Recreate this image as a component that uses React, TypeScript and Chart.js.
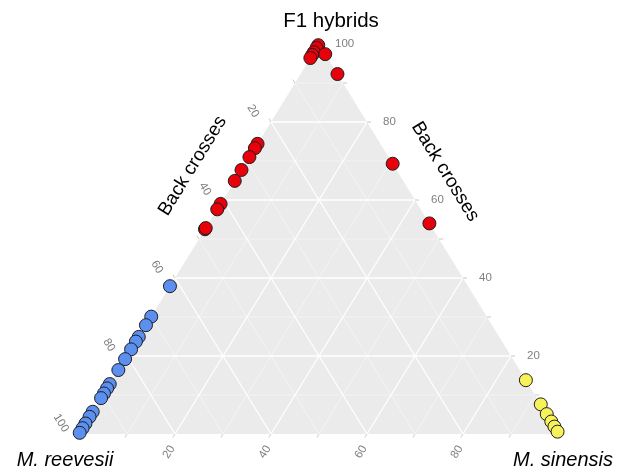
import React, { useEffect, useRef } from "react";
import { Chart, registerables } from "chart.js";

Chart.register(...registerables);

// Compositions in percent. F1 hybrids = top vertex, M. sinensis = right vertex,
// M. reevesii = left vertex (remainder).
const axisTicks = [20, 40, 60, 80, 100];
const bottomTicks = [20, 40, 60, 80];

const redF1 = [99.7, 99.0, 97.9, 97.2, 96.4, 97.4, 92.3, 69.3, 54.0, 74.4, 73.3, 71.0, 67.7, 64.9, 59.0, 57.6, 52.5, 52.8];
const redSinensis = [0, 0, 0, 0, 0, 2.6, 7.7, 30.7, 46.0, 0, 0, 0, 0, 0, 0, 0, 0, 0];

const blueF1 = [37.9, 30.1, 27.9, 24.9, 23.7, 21.7, 19.2, 16.4, 12.8, 11.7, 10.4, 9.2, 5.7, 4.4, 2.7, 1.5, 0.3];
const blueSinensis = [0, 0, 0, 0, 0, 0, 0, 0, 0, 0, 0, 0, 0, 0, 0, 0, 0];

const yellowF1 = [13.8, 7.6, 5.1, 3.2, 1.9, 0.6];
const yellowReevesii = [0, 0, 0, 0, 0, 0];

const FONT = '"Liberation Sans", Arial, Helvetica, sans-serif';

// ternary -> cartesian value used by the linear scales
function toXY(f1: number[], sinensis: number[]) {
  return f1.map((t, i) => ({ x: sinensis[i] + t / 2, y: t }));
}

const ternaryPlugin = {
  id: "ternaryFrame",
  beforeDatasetsDraw(chart: any) {
    const ctx: CanvasRenderingContext2D = chart.ctx;
    const xs = chart.scales.x;
    const ys = chart.scales.y;
    const P = (t: number, r: number): [number, number] => [
      xs.getPixelForValue(r + t / 2),
      ys.getPixelForValue(t),
    ];
    const A = P(100, 0); // top (F1)
    const B = P(0, 0); // left (M. reevesii)
    const C = P(0, 100); // right (M. sinensis)

    ctx.save();
    ctx.fillStyle = "#EBEBEB";
    ctx.beginPath();
    ctx.moveTo(A[0], A[1]);
    ctx.lineTo(B[0], B[1]);
    ctx.lineTo(C[0], C[1]);
    ctx.closePath();
    ctx.fill();

    const line = (p: [number, number], q: [number, number]) => {
      ctx.beginPath();
      ctx.moveTo(p[0], p[1]);
      ctx.lineTo(q[0], q[1]);
      ctx.stroke();
    };

    for (let k = 10; k < 100; k += 10) {
      const major = k % 20 === 0;
      ctx.strokeStyle = major ? "#FFFFFF" : "rgba(255,255,255,0.75)";
      ctx.lineWidth = major ? 1.3 : 0.6;
      line(P(k, 0), P(k, 100 - k)); // constant F1
      line(P(0, k), P(100 - k, k)); // constant sinensis
      line(P(0, 100 - k), P(100 - k, 0)); // constant reevesii
    }

    const unit = (p: [number, number], q: [number, number]) => {
      const dx = q[0] - p[0];
      const dy = q[1] - p[1];
      const l = Math.hypot(dx, dy);
      return [dx / l, dy / l];
    };
    const dirLeft = unit(C, A); // up-left
    const dirBottom = unit(A, B); // down-left
    const tickLen = 4;
    ctx.strokeStyle = "#C8C8C8";
    ctx.lineWidth = 1;
    for (let k = 0; k <= 100; k += 10) {
      const pr = P(k, 100 - k);
      line(pr, [pr[0] + tickLen, pr[1]]);
      const pl = P(100 - k, 0);
      line(pl, [pl[0] + dirLeft[0] * tickLen, pl[1] + dirLeft[1] * tickLen]);
      const pb = P(0, k);
      line(pb, [pb[0] + dirBottom[0] * tickLen, pb[1] + dirBottom[1] * tickLen]);
    }

    // tick labels
    const ang = Math.atan2(A[1] - B[1], A[0] - B[0]); // left edge angle (negative)
    ctx.fillStyle = "#7F7F7F";
    ctx.font = `11.5px ${FONT}`;
    ctx.textBaseline = "middle";
    ctx.textAlign = "left";
    axisTicks.forEach((k) => {
      const p = P(k, 100 - k);
      ctx.fillText(String(k), p[0] + 16, p[1]);
    });
    ctx.textAlign = "center";
    axisTicks.forEach((k) => {
      const p = P(100 - k, 0);
      ctx.save();
      ctx.translate(p[0] - 18, p[1] - 11);
      ctx.rotate(-ang);
      ctx.fillText(String(k), 0, 0);
      ctx.restore();
    });
    bottomTicks.forEach((k) => {
      const p = P(0, k);
      ctx.save();
      ctx.translate(p[0] - 6, p[1] + 18);
      ctx.rotate(ang);
      ctx.fillText(String(k), 0, 0);
      ctx.restore();
    });

    // titles
    ctx.fillStyle = "#000000";
    ctx.textBaseline = "alphabetic";
    ctx.font = `20.5px ${FONT}`;
    ctx.fillText("F1 hybrids", A[0] + 12, A[1] - 17);
    ctx.font = `italic 20px ${FONT}`;
    ctx.fillText("M. reevesii", B[0] - 14, B[1] + 32);
    ctx.fillText("M. sinensis", C[0] + 4, C[1] + 32);

    ctx.font = `19px ${FONT}`;
    ctx.textBaseline = "middle";
    const mid = (p: [number, number], q: [number, number], f: number): [number, number] => [
      p[0] + (q[0] - p[0]) * f,
      p[1] + (q[1] - p[1]) * f,
    ];
    const lm = mid(A, B, 0.31);
    ctx.save();
    ctx.translate(lm[0] - 52, lm[1] + 1);
    ctx.rotate(ang);
    ctx.fillText("Back crosses", 0, 0);
    ctx.restore();
    const rm = mid(A, C, 0.33);
    ctx.save();
    ctx.translate(rm[0] + 47, rm[1] - 1);
    ctx.rotate(-ang);
    ctx.fillText("Back crosses", 0, 0);
    ctx.restore();

    ctx.restore();
  },
};

export default function App() {
  const ref = useRef<HTMLCanvasElement | null>(null);

  useEffect(() => {
    document.body.style.margin = "0";
    if (!ref.current) return;
    const common = {
      pointRadius: 6.5,
      pointHoverRadius: 6.5,
      pointBorderWidth: 1,
      pointBorderColor: "#1E1E1E",
      showLine: false,
      clip: false as any,
    };
    const chart = new Chart(ref.current, {
      type: "scatter",
      data: {
        datasets: [
          {
            ...common,
            label: "M. sinensis",
            data: yellowF1.map((t, i) => ({ x: 100 - t - yellowReevesii[i] + t / 2, y: t })),
            pointBackgroundColor: "#F7F25A",
          },
          {
            ...common,
            label: "M. reevesii",
            data: toXY(blueF1, blueSinensis),
            pointBackgroundColor: "#5B8FF0",
          },
          {
            ...common,
            label: "Hybrids",
            data: toXY(redF1, redSinensis),
            pointBackgroundColor: "#E8000B",
          },
        ],
      },
      options: {
        responsive: false,
        animation: false,
        layout: { padding: { left: 79, right: 67, top: 44, bottom: 34 } },
        scales: {
          x: { type: "linear", min: 0, max: 100, display: false },
          y: { type: "linear", min: 0, max: 100, display: false },
        },
        plugins: {
          legend: { display: false },
          tooltip: { enabled: false },
          title: { display: false },
        },
        events: [],
      },
      plugins: [ternaryPlugin],
    });
    return () => chart.destroy();
  }, []);

  return (
    <div style={{ width: 626, height: 468, background: "#FFFFFF" }}>
      <canvas ref={ref} width={626} height={468} style={{ display: "block" }} />
    </div>
  );
}
